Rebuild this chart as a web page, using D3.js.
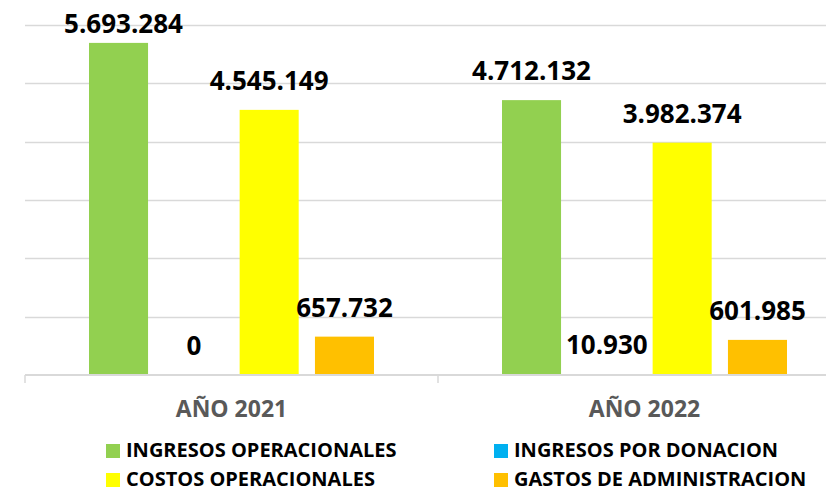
<!DOCTYPE html>
<html><head><meta charset="utf-8">
<script src="https://cdn.jsdelivr.net/npm/d3@7"></script>
<style>
html,body{margin:0;padding:0;background:#fff;}
svg{display:block;font-family:"Open Sans",sans-serif;}
</style></head>
<body>
<svg id="chart" width="826" height="491"></svg>
<script>
const categories = ["AÑO 2021", "AÑO 2022"];
const seriesNames = ["INGRESOS OPERACIONALES", "INGRESOS POR DONACION", "COSTOS OPERACIONALES", "GASTOS DE ADMINISTRACION"];
const ingresosOperacionales = [5693284, 4712132];
const ingresosPorDonacion = [0, 10930];
const costosOperacionales = [4545149, 3982374];
const gastosAdministracion = [657732, 601985];
const seriesColors = ["#92D050", "#00B0F0", "#FFFF00", "#FFC000"];
const yTicks = [0, 1000000, 2000000, 3000000, 4000000, 5000000, 6000000];

const seriesValues = [ingresosOperacionales, ingresosPorDonacion, costosOperacionales, gastosAdministracion];
const svg = d3.select("#chart");

const y = d3.scaleLinear().domain([0, 6000000]).range([375, 25]);
const x0 = d3.scaleBand().domain(categories).range([25, 851]).padding(0);
const x1 = d3.scaleBand().domain(seriesNames).range([64, 349]).paddingInner(0.216).paddingOuter(0);

// gridlines
svg.append("g").selectAll("line").data(yTicks.slice(1)).join("line")
  .attr("x1", 25).attr("x2", 826)
  .attr("y1", d => Math.round(y(d)) + 0.5).attr("y2", d => Math.round(y(d)) + 0.5)
  .attr("stroke", "#D9D9D9").attr("stroke-width", 1.5);

// category labels
svg.append("g").selectAll("text").data(categories).join("text")
  .attr("x", d => x0(d) + x0.bandwidth() / 2).attr("y", 417)
  .attr("text-anchor", "middle").attr("font-weight", "bold").attr("font-size", 23)
  .attr("fill", "#595959").text(d => d);

// bars
const fmt = v => d3.format(",")(v).replace(/,/g, ".");
const groups = svg.append("g").selectAll("g").data(categories).join("g")
  .attr("transform", d => `translate(${x0(d)},0)`);
groups.each(function(cat, ci) {
  const g = d3.select(this);
  const data = seriesNames.map((s, si) => ({s, si, v: seriesValues[si][ci]}));
  g.selectAll("rect").data(data).join("rect")
    .attr("x", d => x1(d.s)).attr("width", x1.bandwidth())
    .attr("y", d => y(d.v)).attr("height", d => y(0) - y(d.v))
    .attr("fill", d => seriesColors[d.si]);
  g.selectAll("text").data(data).join("text")
    .attr("x", d => x1(d.s) + x1.bandwidth() / 2 + (y(d.v) - 20 < 33 ? 5 : 0))
    .attr("y", d => Math.max(y(d.v) - 20, 33))
    .attr("text-anchor", "middle").attr("font-weight", "bold").attr("font-size", 26)
    .attr("fill", "#000").text(d => fmt(d.v));
});

// x axis (drawn over bars)
const xAxis = d3.axisBottom(x0).tickSize(8).tickFormat("");
const gx = svg.append("g").attr("transform", "translate(0,375)").call(xAxis);
gx.selectAll(".tick").remove();
gx.select(".domain").remove();
gx.append("line").attr("x1", 25).attr("x2", 826).attr("y1", 0).attr("y2", 0).attr("stroke", "#D9D9D9").attr("stroke-width", 2);
gx.selectAll(".sep").data(categories).join("line").attr("class", "sep")
  .attr("x1", d => x0(d)).attr("x2", d => x0(d)).attr("y1", 0).attr("y2", 8)
  .attr("stroke", "#D9D9D9").attr("stroke-width", 1.5);

// legend
const legendPos = [[106, 444], [494, 444], [106, 473], [494, 473]];
const legendOrder = [0, 1, 2, 3];
const lg = svg.append("g").selectAll("g").data(legendOrder).join("g")
  .attr("transform", (d, i) => `translate(${legendPos[i][0]},${legendPos[i][1]})`);
lg.append("rect").attr("width", 14).attr("height", 14).attr("fill", d => seriesColors[d]);
lg.append("text").attr("x", 20).attr("y", 13).attr("font-weight", "bold").attr("font-size", 20)
  .attr("fill", "#000").text(d => seriesNames[d]);
</script>
</body></html>
